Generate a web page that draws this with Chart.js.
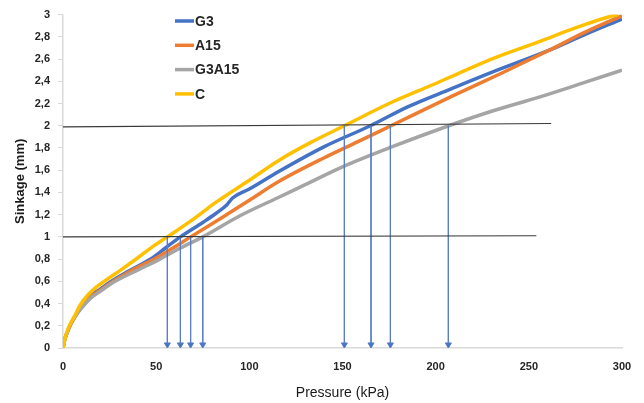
<!DOCTYPE html>
<html>
<head>
<meta charset="utf-8">
<script src="https://cdn.jsdelivr.net/npm/chart.js@4"></script>
<style>
  html, body { margin: 0; padding: 0; background: #fff; }
  #wrap { width: 644px; height: 403px; }
</style>
</head>
<body>
<div id="wrap"><canvas id="sinkChart"></canvas></div>
<script>
// series: [pressure kPa, sinkage mm]
const seriesNames = ['G3', 'A15', 'G3A15', 'C'];
const seriesColors = ['#4472C4', '#ED7D31', '#A5A5A5', '#FFC000'];

const g3 = [[0,0],[1,0.08],[2,0.13],[4,0.21],[6,0.27],[10,0.38],[14,0.46],[20,0.53],[26,0.6],[35,0.69],[47,0.8],[55,0.9],[63,1.0],[75,1.13],[82,1.21],[88,1.29],[91,1.35],[100,1.43],[116,1.59],[140,1.81],[165,2.0],[185,2.17],[208,2.33],[230,2.48],[261,2.68],[280,2.82],[300,2.96]];
const a15 = [[0,0],[1,0.08],[2,0.13],[4,0.21],[6,0.27],[10,0.37],[15,0.46],[20,0.52],[27,0.6],[37,0.7],[49,0.8],[59,0.9],[68.5,1.0],[85,1.17],[100,1.33],[116,1.5],[140,1.71],[160,1.87],[176,2.0],[208,2.26],[235,2.47],[261,2.68],[280,2.84],[300,2.99]];
const g3a15 = [[0,0],[1,0.08],[2,0.13],[4,0.21],[6,0.27],[10,0.36],[15,0.45],[20,0.51],[28,0.6],[40,0.7],[52,0.8],[63,0.9],[75,1.0],[95,1.19],[115,1.35],[130,1.47],[150,1.63],[175,1.8],[207,2.0],[230,2.13],[256,2.26],[280,2.39],[300,2.5]];
const c = [[0,0],[1,0.08],[2,0.14],[4,0.22],[6,0.28],[9,0.38],[13,0.47],[18,0.55],[23,0.61],[30,0.69],[40,0.81],[48,0.91],[56,1.0],[70,1.16],[82,1.31],[100,1.51],[116,1.69],[133,1.85],[151,2.0],[175,2.2],[200,2.38],[208,2.44],[230,2.6],[256,2.76],[275,2.88],[295,2.99],[298,3.0]];

// reference lines and arrows
const refLine1 = [[0,1.0],[254,1.01]];
const refLine2 = [[0,1.99],[262,2.02]];
const arrowsAt1 = [56, 63, 68.5, 75];
const arrowsAt2 = [151, 165.3, 175.7, 206.8];

const xTicks = { min: 0, max: 300, step: 50 };
const yTicks = { min: 0, max: 3, step: 0.2 };

const toXY = arr => arr.map(p => ({ x: p[0], y: p[1] }));

const datasets = [];
[g3, a15, g3a15, c].forEach((s, i) => {
    datasets.push({
        label: seriesNames[i],
        data: toXY(s),
        borderColor: seriesColors[i],
        borderWidth: 3.5,
        pointRadius: 0,
        cubicInterpolationMode: 'monotone',
        order: 3 - i
    });
});
[refLine1, refLine2].forEach(l => {
    datasets.push({
        label: '',
        data: toXY(l),
        borderColor: '#3a3a3a',
        borderWidth: 1.1,
        pointRadius: 0,
        order: -2
    });
});
arrowsAt1.forEach(x => {
    datasets.push({
        label: '',
        data: [{ x: x, y: 1.0 }, { x: x, y: 0.03 }],
        borderColor: '#5B7FC7',
        backgroundColor: '#4472C4',
        borderWidth: 1,
        pointRadius: [0, 3.5],
        pointStyle: 'triangle',
        rotation: 180,
        order: -1
    });
});
arrowsAt2.forEach(x => {
    datasets.push({
        label: '',
        data: [{ x: x, y: 2.0 }, { x: x, y: 0.03 }],
        borderColor: '#5B7FC7',
        backgroundColor: '#4472C4',
        borderWidth: 1,
        pointRadius: [0, 3.5],
        pointStyle: 'triangle',
        rotation: 180,
        order: -1
    });
});

// legend drawn inside the plot like the original
const insideLegend = {
    id: 'insideLegend',
    afterDraw(chart) {
        const g = chart.ctx;
        g.save();
        g.font = 'bold 14px "Liberation Sans", Arial, sans-serif';
        g.textBaseline = 'middle';
        seriesNames.forEach((name, i) => {
            const y = 21 + i * 24.3;
            g.strokeStyle = seriesColors[i];
            g.lineWidth = 3.5;
            g.beginPath();
            g.moveTo(175, y);
            g.lineTo(194, y);
            g.stroke();
            g.fillStyle = '#262626';
            g.fillText(name, 195, y + 1);
        });
        g.restore();
    }
};

const ctx = document.getElementById('sinkChart').getContext('2d');
const chart = new Chart(ctx, {
    type: 'line',
    data: { datasets: datasets },
    options: {
        responsive: true,
        maintainAspectRatio: false,
        animation: false,
        layout: { padding: { top: 12, right: 22, left: 0, bottom: 0 } },
        plugins: { legend: { display: false }, tooltip: { enabled: false } },
        scales: {
            x: {
                type: 'linear',
                min: xTicks.min,
                max: xTicks.max,
                grid: { display: false, drawTicks: false },
                border: { color: '#d9d9d9', width: 1.5 },
                ticks: {
                    stepSize: xTicks.step,
                    padding: 12,
                    color: '#262626',
                    font: { family: '"Liberation Sans", Arial, sans-serif', size: 11, weight: 'bold' }
                },
                title: {
                    display: true,
                    text: 'Pressure (kPa)',
                    color: '#1a1a1a',
                    font: { family: '"Liberation Sans", Arial, sans-serif', size: 14 },
                    padding: { top: 4, bottom: 1 }
                },
                afterFit(scale) { scale.height = 55; }
            },
            y: {
                type: 'linear',
                min: yTicks.min,
                max: yTicks.max,
                grid: { drawOnChartArea: false, drawTicks: true, tickLength: 5, color: '#d9d9d9' },
                border: { color: '#d9d9d9', width: 1.5 },
                ticks: {
                    stepSize: yTicks.step,
                    padding: 8,
                    color: '#262626',
                    font: { family: '"Liberation Sans", Arial, sans-serif', size: 11, weight: 'bold' },
                    callback: v => String(Math.round(v * 10) / 10).replace('.', ',')
                },
                title: {
                    display: true,
                    text: 'Sinkage (mm)',
                    color: '#1a1a1a',
                    font: { family: '"Liberation Sans", Arial, sans-serif', size: 13, weight: 'bold' },
                    padding: { top: 13, bottom: 0 }
                },
                afterFit(scale) { scale.width = 63; }
            }
        }
    },
    plugins: [insideLegend]
});
</script>
</body>
</html>
